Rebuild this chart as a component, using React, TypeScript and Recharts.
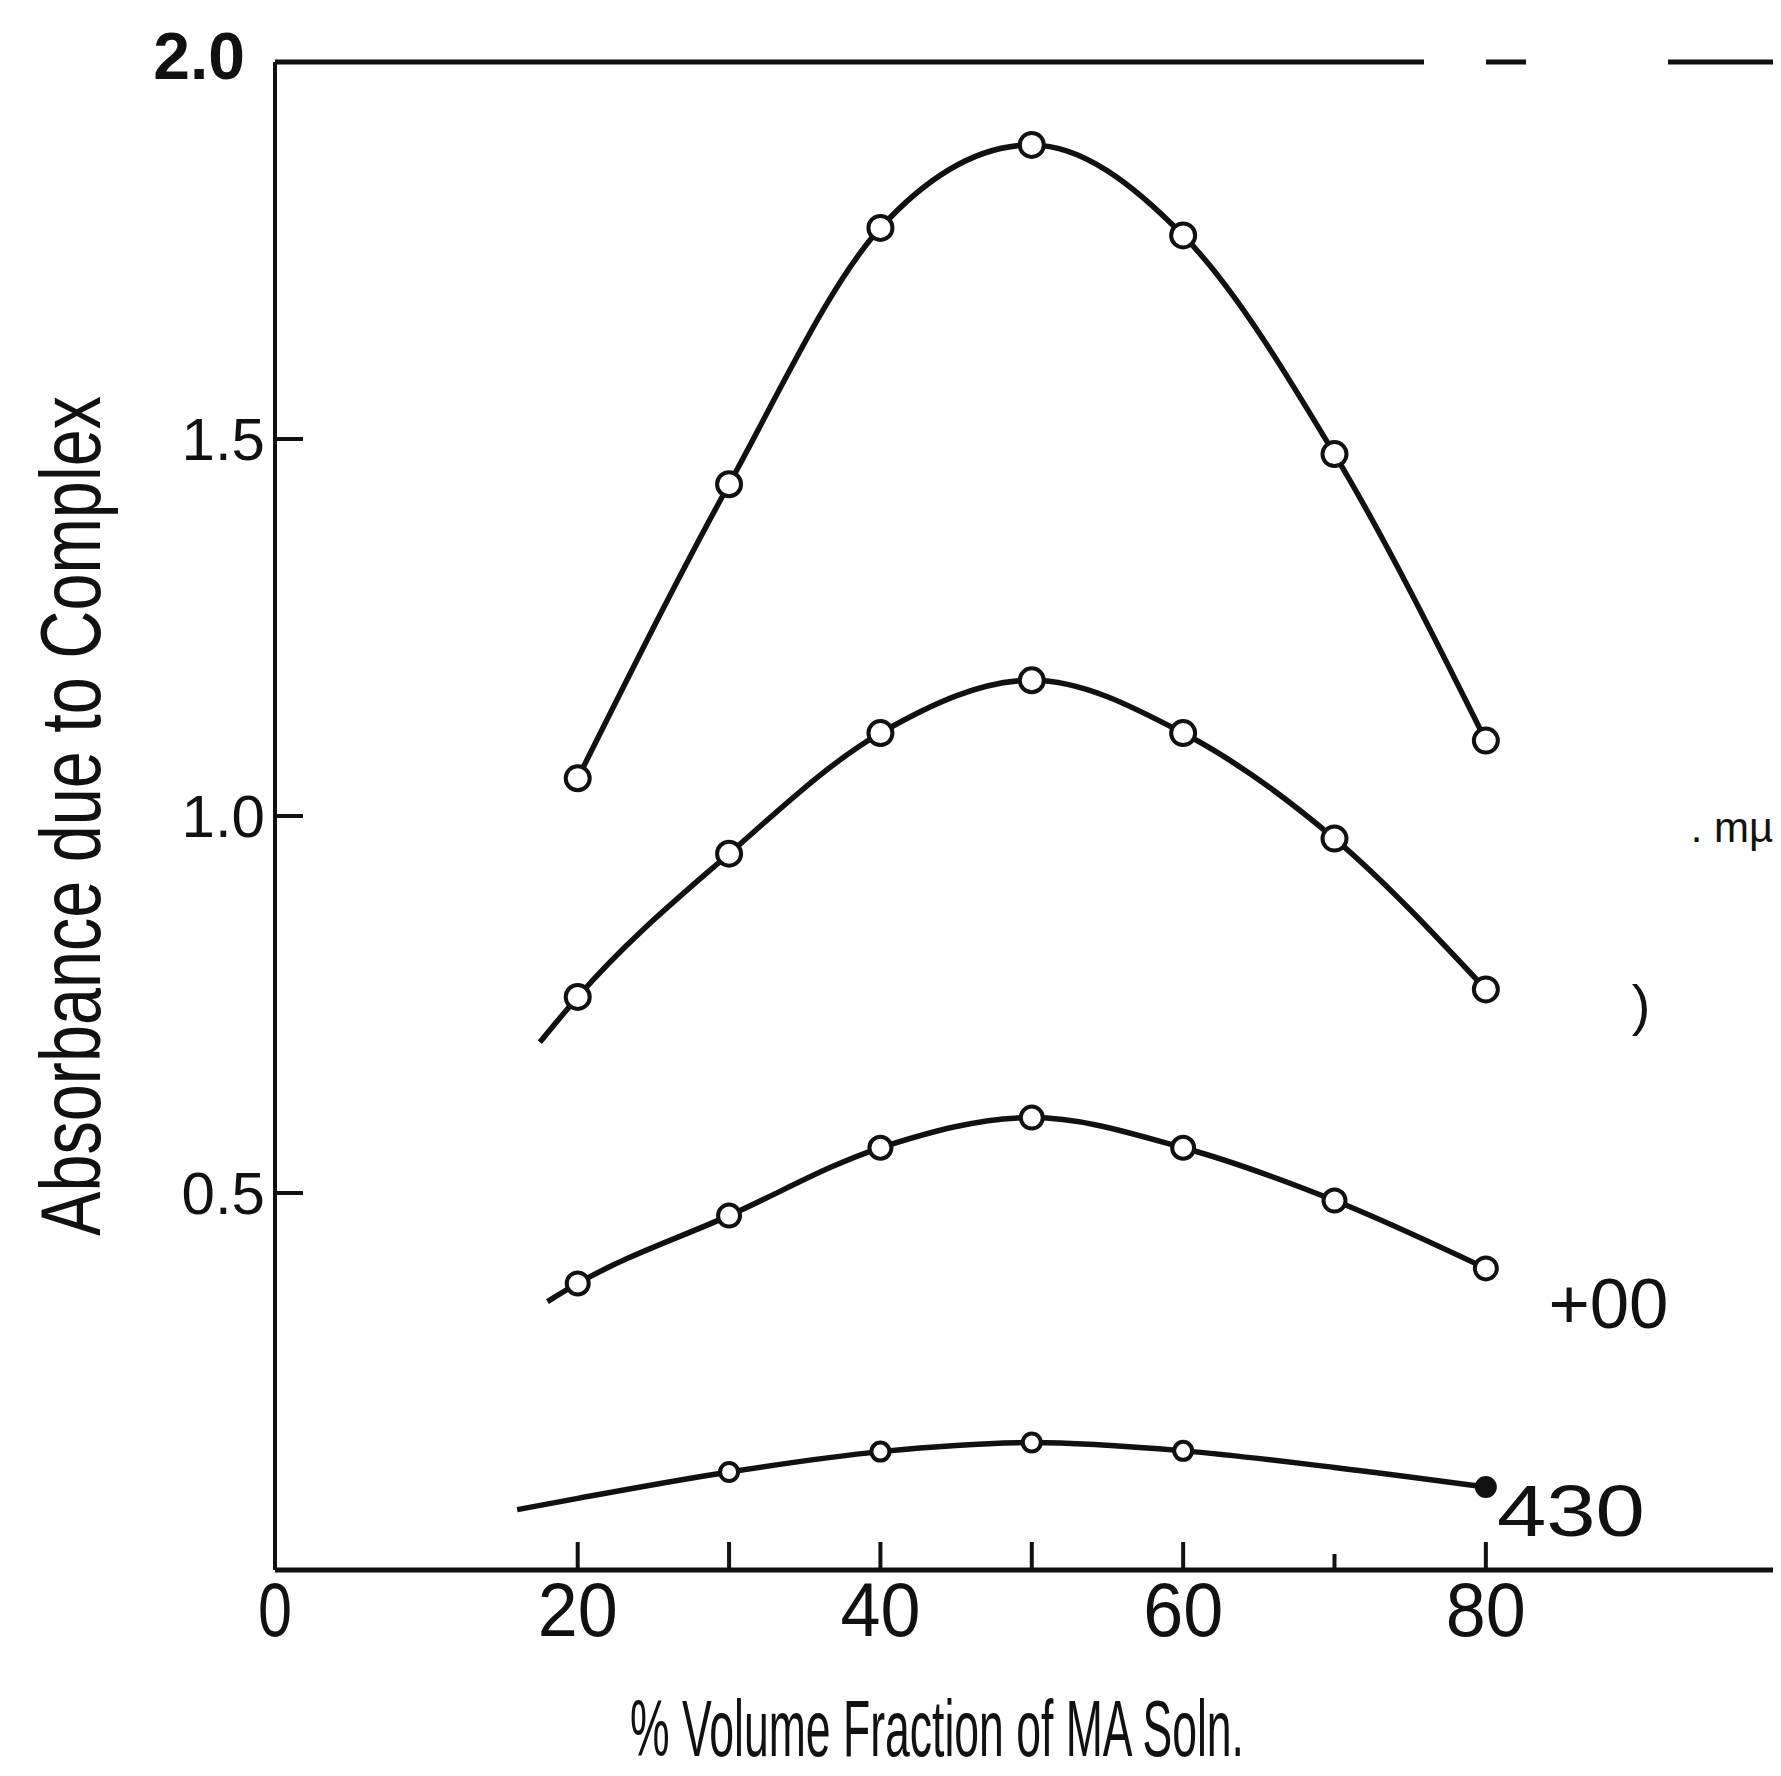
import React from "react";
import {
  LineChart,
  Line,
  XAxis,
  YAxis,
  ReferenceLine,
  ReferenceDot,
  Label,
} from "recharts";

// % volume fraction of MA soln.
const X_POINTS = [20, 30, 40, 50, 60, 70, 80];

// absorbance, top to bottom
const CURVE_TOP = [1.05, 1.44, 1.78, 1.89, 1.77, 1.48, 1.1];
const CURVE_MID = [0.76, 0.95, 1.11, 1.18, 1.11, 0.97, 0.77];
const CURVE_LOW = [0.38, 0.47, 0.56, 0.6, 0.56, 0.49, 0.4];
const CURVE_430 = [0.095, 0.13, 0.157, 0.169, 0.158, 0.136, 0.11];

// where the drawn line starts left of the first point (no marker there)
const MID_START = { x: 17.5, y: 0.7 };
const LOW_START = { x: 18, y: 0.356 };
const START_430 = { x: 16, y: 0.08 };

// 430 curve has no circle at these x
const NO_MARK_430 = [20, 70];

const X_TICKS = [0, 20, 30, 40, 50, 60, 70, 80];
const X_LABELED = [0, 20, 40, 60, 80];
const Y_TICKS = [0.5, 1.0, 1.5, 2.0];

const INK = "#111";
const FONT = "'Liberation Sans', Arial, sans-serif";

type Pt = { x: number; y: number; mark: boolean };

function build(values: number[], start?: { x: number; y: number }, skip: number[] = []): Pt[] {
  const pts: Pt[] = values.map((v, i) => ({
    x: X_POINTS[i],
    y: v,
    mark: !skip.includes(X_POINTS[i]),
  }));
  if (start) pts.unshift({ x: start.x, y: start.y, mark: false });
  return pts;
}

const topData = build(CURVE_TOP);
const midData = build(CURVE_MID, MID_START);
const lowData = build(CURVE_LOW, LOW_START);
const data430 = build(CURVE_430, START_430, NO_MARK_430);

function makeDot(r: number, filledLast = false) {
  return (props: any) => {
    const { cx, cy, payload, index } = props;
    if (!payload?.mark) return <g key={`d${index}`} />;
    const filled = filledLast && payload.x === 80;
    return (
      <circle
        key={`d${index}`}
        cx={cx}
        cy={cy}
        r={r}
        fill={filled ? INK : "#fff"}
        stroke={INK}
        strokeWidth={4}
      />
    );
  };
}

function XTick(props: any) {
  const { x, y, payload } = props;
  const v = payload.value;
  return (
    <g>
      {v !== 0 && (
        <line x1={x} y1={y} x2={x} y2={y - (v === 70 ? 16 : 28)} stroke={INK} strokeWidth={4} />
      )}
      {X_LABELED.includes(v) && (
        <text
          x={x}
          y={y + 66}
          textAnchor="middle"
          fontSize={76}
          fontFamily={FONT}
          fill={INK}
          textLength={v === 0 ? 34 : 80}
          lengthAdjust="spacingAndGlyphs"
        >
          {v}
        </text>
      )}
    </g>
  );
}

function YTick(props: any) {
  const { x, y, payload } = props;
  const v = payload.value;
  const top = v === 2;
  return (
    <g>
      {!top && <line x1={x} y1={y} x2={x + 28} y2={y} stroke={INK} strokeWidth={4} />}
      <text
        x={top ? x - 30 : x - 10}
        y={top ? y - 6 : y}
        textAnchor="end"
        dominantBaseline="central"
        fontSize={top ? 66 : 60}
        fontWeight={top ? 700 : 400}
        fontFamily={FONT}
        fill={INK}
      >
        {v.toFixed(1)}
      </text>
    </g>
  );
}

function note(text: string, size: number, len?: number) {
  return (props: any) => {
    const vb = props.viewBox || {};
    return (
      <text
        x={vb.x}
        y={(vb.y ?? 0) + (vb.height ?? 0) / 2}
        dominantBaseline="central"
        fontSize={size}
        fontFamily={FONT}
        fill={INK}
        textLength={len}
        lengthAdjust={len ? "spacingAndGlyphs" : undefined}
      >
        {text}
      </text>
    );
  };
}

export default function App() {
  return (
    <div style={{ width: 1773, height: 1768, overflow: "hidden", background: "#fff" }}>
      <LineChart
        width={1773}
        height={1768}
        margin={{ top: 54, right: 0, bottom: 0, left: 0 }}
      >
        <XAxis
          type="number"
          dataKey="x"
          domain={[0, 99.5]}
          allowDataOverflow
          ticks={X_TICKS}
          interval={0}
          height={206}
          tickSize={0}
          tickMargin={0}
          tick={<XTick />}
          tickLine={false}
          axisLine={{ stroke: INK, strokeWidth: 5 }}
        >
          <Label
            content={(p: any) => (
              <text
                x={p.viewBox.x + 662}
                y={p.viewBox.y + 186}
                textAnchor="middle"
                fontSize={80}
                fontFamily={FONT}
                fill={INK}
                textLength={614}
                lengthAdjust="spacingAndGlyphs"
              >
                % Volume Fraction of MA Soln.
              </text>
            )}
          />
        </XAxis>
        <YAxis
          type="number"
          domain={[0, 2]}
          ticks={Y_TICKS}
          interval={0}
          width={267}
          tickSize={0}
          tickMargin={0}
          tick={<YTick />}
          tickLine={false}
          axisLine={{ stroke: INK, strokeWidth: 4 }}
        >
          <Label
            content={(p: any) => {
              const cx = 92;
              const cy = p.viewBox.y + p.viewBox.height / 2;
              return (
                <text
                  x={cx}
                  y={cy}
                  transform={`rotate(-90 ${cx} ${cy})`}
                  textAnchor="middle"
                  fontSize={86}
                  fontFamily={FONT}
                  fill={INK}
                  textLength={840}
                  lengthAdjust="spacingAndGlyphs"
                >
                  Absorbance due to Complex
                </text>
              );
            }}
          />
        </YAxis>

        <ReferenceLine
          y={2}
          stroke={INK}
          strokeWidth={5}
          strokeDasharray="1149 62 40 142 400"
        />

        <Line
          data={topData}
          dataKey="y"
          type="monotone"
          stroke={INK}
          strokeWidth={5.5}
          dot={makeDot(12)}
          activeDot={false}
          isAnimationActive={false}
        />
        <Line
          data={midData}
          dataKey="y"
          type="monotone"
          stroke={INK}
          strokeWidth={5.5}
          dot={makeDot(12)}
          activeDot={false}
          isAnimationActive={false}
        />
        <Line
          data={lowData}
          dataKey="y"
          type="monotone"
          stroke={INK}
          strokeWidth={5.5}
          dot={makeDot(11)}
          activeDot={false}
          isAnimationActive={false}
        />
        <Line
          data={data430}
          dataKey="y"
          type="monotone"
          stroke={INK}
          strokeWidth={5.5}
          dot={makeDot(9, true)}
          activeDot={false}
          isAnimationActive={false}
        />

        <ReferenceDot x={93.6} y={0.985} r={1} fill="none" stroke="none" ifOverflow="visible" label={note(". mµ", 42)} />
        <ReferenceDot x={89.7} y={0.75} r={1} fill="none" stroke="none" ifOverflow="visible" label={note(")", 56)} />
        <ReferenceDot x={84.2} y={0.353} r={1} fill="none" stroke="none" ifOverflow="visible" label={note("+00", 70, 120)} />
        <ReferenceDot x={80.8} y={0.078} r={1} fill="none" stroke="none" ifOverflow="visible" label={note("430", 72, 148)} />
      </LineChart>
    </div>
  );
}
